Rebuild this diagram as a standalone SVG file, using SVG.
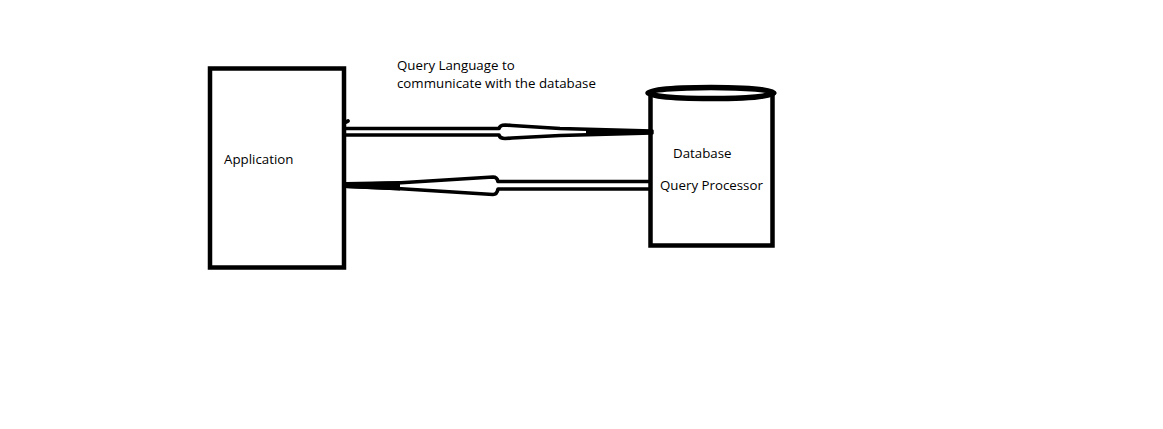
<svg xmlns="http://www.w3.org/2000/svg" width="1163" height="429" viewBox="0 0 1163 429">
<style>
.box{fill:#fff;stroke:#000;stroke-width:4.5}
.ln{fill:none;stroke:#000;stroke-width:3.7;stroke-linejoin:round;stroke-linecap:round}
.t{font-family:"Open Sans","Noto Sans",sans-serif;font-size:13.3px;fill:#000}
</style>
<rect width="1163" height="429" fill="#fff"/>
<g id="application">
<rect class="box" x="210" y="68.5" width="134" height="199"/>
<text class="t" x="224" y="164">Application</text>
</g>
<g id="database">
<path class="box" d="M650.5,94 L650.5,245.5 L772.5,245.5 L772.5,94"/>
<ellipse cx="711" cy="93" rx="63" ry="5.5" fill="#fff" stroke="#000" stroke-width="5.5"/>
<text class="t" x="673" y="158">Database</text>
<text class="t" x="660" y="190">Query Processor</text>
</g>
<g id="label">
<text class="t" x="397" y="70">Query Language to</text>
<text class="t" x="397" y="88">communicate with the database</text>
</g>
<g id="connectors">
<path class="ln" d="M346,128.5 L499,128.5 Q500,125 505,125 L512,125.5 L560,128.5 L652,131"/>
<path class="ln" d="M346,135 L499,135 Q500,138.5 505,138.5 L512,138 L560,135.5 L652,133"/>
<path d="M586,128.5 L653,130.5 L653,133.5 L586,135.5 Z" fill="#000"/>
<path class="ln" d="M346,122 L348,121"/>
<path class="ln" d="M650,181.5 L498,181.5 Q497,177 493,177 L397,183 L347,184.5"/>
<path class="ln" d="M650,189 L498,189 Q497,194.5 493,194.5 L397,188.5 L347,186.5"/>
<path d="M346,182 L400,181 L400,190.5 L346,188 Z" fill="#000"/>
</g>
</svg>
